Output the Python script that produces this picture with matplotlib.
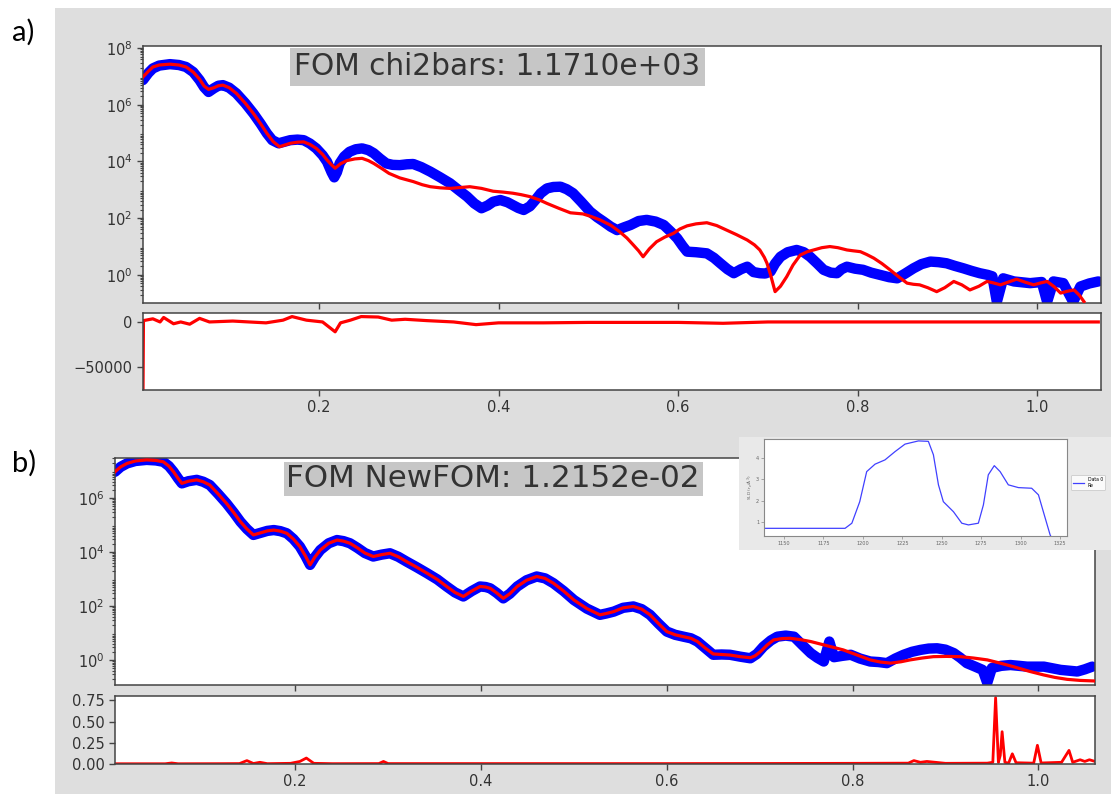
import matplotlib
matplotlib.use("Agg")
import matplotlib.pyplot as plt
from matplotlib.patches import Rectangle
from matplotlib.ticker import FixedLocator, LogLocator, NullFormatter

W, H = 1111, 794

# ---------------- panel a) chi2bars fit (log10 reflectivity) ----------------
qa_data = [0.004, 0.010, 0.015, 0.022, 0.034, 0.044, 0.052, 0.060, 0.067, 0.072, 0.077,
           0.083, 0.088, 0.093, 0.100, 0.108, 0.118, 0.127, 0.135, 0.142, 0.148, 0.155,
           0.162, 0.168, 0.176, 0.183, 0.190, 0.197, 0.204, 0.209, 0.214, 0.217, 0.220,
           0.223, 0.228, 0.234, 0.241, 0.248, 0.255, 0.261, 0.268, 0.275, 0.282, 0.290,
           0.298, 0.305, 0.314, 0.324, 0.335, 0.346, 0.356, 0.365, 0.373, 0.381, 0.388,
           0.394, 0.402, 0.410, 0.416, 0.422, 0.428, 0.435, 0.441, 0.447, 0.454, 0.461,
           0.469, 0.476, 0.483, 0.492, 0.502, 0.510, 0.517, 0.525, 0.532, 0.540, 0.547,
           0.556, 0.565, 0.575, 0.584, 0.592, 0.599, 0.605, 0.610, 0.620, 0.632, 0.640,
           0.647, 0.655, 0.662, 0.670, 0.677, 0.684, 0.691, 0.697, 0.703, 0.708, 0.714,
           0.722, 0.732, 0.740, 0.747, 0.755, 0.762, 0.770, 0.777, 0.782, 0.788, 0.797,
           0.806, 0.815, 0.825, 0.835, 0.844, 0.853, 0.862, 0.871, 0.881, 0.890, 0.899,
           0.908, 0.918, 0.927, 0.936, 0.945, 0.950, 0.955, 0.962, 0.974, 0.992, 1.005,
           1.011, 1.018, 1.029, 1.040, 1.048, 1.058, 1.068]
la_data = [6.87, 7.12, 7.28, 7.38, 7.43, 7.40, 7.33, 7.15, 6.87, 6.62, 6.45,
           6.58, 6.67, 6.69, 6.60, 6.40, 6.05, 5.69, 5.33, 4.99, 4.75, 4.64,
           4.70, 4.75, 4.77, 4.75, 4.63, 4.46, 4.22, 3.99, 3.62, 3.44, 3.62,
           3.93, 4.17, 4.34, 4.43, 4.46, 4.40, 4.29, 4.10, 3.93, 3.88, 3.87,
           3.90, 3.91, 3.80, 3.64, 3.44, 3.23, 2.98, 2.76, 2.52, 2.35, 2.45,
           2.58, 2.64, 2.56, 2.46, 2.36, 2.29, 2.42, 2.64, 2.88, 3.05, 3.10,
           3.11, 3.02, 2.88, 2.58, 2.23, 2.03, 1.88, 1.70, 1.58, 1.68, 1.76,
           1.90, 1.94, 1.88, 1.76, 1.52, 1.29, 1.02, 0.82, 0.80, 0.76, 0.60,
           0.41, 0.20, 0.06, 0.20, 0.29, 0.10, 0.06, 0.05, 0.12, 0.40, 0.64,
           0.80, 0.88, 0.80, 0.64, 0.40, 0.18, 0.08, 0.06, 0.20, 0.29, 0.22,
           0.18, 0.08, 0.00, -0.08, -0.12, 0.05, 0.23, 0.38, 0.47, 0.45, 0.41,
           0.32, 0.23, 0.14, 0.06, 0.00, -0.05, -0.95, -0.12, -0.23, -0.29, -0.25,
           -0.95, -0.23, -0.29, -0.95, -0.41, -0.30, -0.23]
qa_fit = [0.004, 0.010, 0.015, 0.022, 0.034, 0.044, 0.052, 0.060, 0.067, 0.072, 0.077,
          0.083, 0.088, 0.093, 0.100, 0.108, 0.118, 0.127, 0.135, 0.142, 0.149, 0.156,
          0.162, 0.168, 0.176, 0.183, 0.190, 0.197, 0.204, 0.209, 0.214, 0.218, 0.224,
          0.231, 0.240, 0.248, 0.255, 0.261, 0.270, 0.278, 0.290, 0.305, 0.315, 0.324,
          0.335, 0.346, 0.357, 0.368, 0.381, 0.394, 0.405, 0.416, 0.425, 0.435, 0.445,
          0.454, 0.467, 0.480, 0.494, 0.503, 0.513, 0.525, 0.535, 0.543, 0.550, 0.556,
          0.561, 0.568, 0.576, 0.585, 0.595, 0.602, 0.610, 0.620, 0.632, 0.643, 0.654,
          0.665, 0.677, 0.685, 0.691, 0.696, 0.699, 0.703, 0.708, 0.714, 0.721, 0.728,
          0.736, 0.744, 0.751, 0.760, 0.769, 0.778, 0.788, 0.795, 0.803, 0.810, 0.818,
          0.827, 0.836, 0.845, 0.855, 0.862, 0.869, 0.878, 0.888, 0.897, 0.907, 0.916,
          0.925, 0.935, 0.944, 0.951, 0.959, 0.968, 0.977, 0.986, 0.996, 1.004, 1.011,
          1.019, 1.026, 1.033, 1.041, 1.047, 1.052]
la_fit = [6.98, 7.18, 7.33, 7.40, 7.43, 7.40, 7.33, 7.15, 6.90, 6.66, 6.54,
          6.60, 6.67, 6.69, 6.60, 6.40, 6.05, 5.69, 5.33, 4.99, 4.70, 4.52,
          4.58, 4.64, 4.68, 4.69, 4.60, 4.46, 4.25, 4.05, 3.88, 3.76, 3.92,
          4.03, 4.09, 4.11, 4.03, 3.93, 3.75, 3.58, 3.42, 3.29, 3.18, 3.11,
          3.07, 3.05, 3.08, 3.11, 3.05, 2.95, 2.92, 2.88, 2.83, 2.76, 2.65,
          2.52, 2.35, 2.19, 2.15, 2.06, 1.94, 1.75, 1.52, 1.30, 1.06, 0.85,
          0.64, 0.92, 1.17, 1.33, 1.47, 1.62, 1.73, 1.80, 1.84, 1.74, 1.58,
          1.42, 1.23, 1.06, 0.88, 0.62, 0.41, 0.00, -0.59, -0.40, -0.06, 0.35,
          0.70, 0.82, 0.88, 0.96, 1.00, 0.96, 0.88, 0.85, 0.82, 0.72, 0.59,
          0.40, 0.18, -0.05, -0.29, -0.33, -0.35, -0.45, -0.59, -0.45, -0.23, -0.35,
          -0.53, -0.40, -0.23, -0.28, -0.35, -0.25, -0.15, -0.25, -0.35, -0.28, -0.23,
          -0.42, -0.64, -0.58, -0.53, -0.72, -0.94]
qa_res = [0.004, 0.0045, 0.015, 0.023, 0.027, 0.038, 0.046, 0.056, 0.067, 0.078, 0.104,
          0.122, 0.141, 0.160, 0.170, 0.186, 0.204, 0.218, 0.224, 0.235, 0.247, 0.266,
          0.281, 0.296, 0.320, 0.350, 0.375, 0.400, 0.450, 0.500, 0.600, 0.650, 0.700,
          0.800, 0.900, 1.000, 1.068]
va_res = [-76000, 1500, 3500, 0, 5000, -2000, 0, -2500, 4000, 0, 1000,
          0, -1000, 2000, 6000, 2000, 0, -11000, -1000, 2000, 6000, 5500,
          2000, 3000, 1500, 0, -3000, -1000, -1000, -500, -500, -1500, 0,
          0, 0, 0, 0]

# ---------------- panel b) NewFOM fit (log10 reflectivity) ----------------
qb_data = [0.006, 0.012, 0.019, 0.028, 0.040, 0.050, 0.058, 0.064, 0.069, 0.074, 0.078,
           0.085, 0.094, 0.101, 0.108, 0.117, 0.126, 0.134, 0.141, 0.148, 0.155, 0.162,
           0.170, 0.177, 0.184, 0.191, 0.198, 0.205, 0.211, 0.216, 0.221, 0.227, 0.236,
           0.245, 0.252, 0.259, 0.267, 0.275, 0.284, 0.293, 0.302, 0.311, 0.320, 0.331,
           0.342, 0.353, 0.363, 0.372, 0.381, 0.390, 0.399, 0.405, 0.410, 0.417, 0.424,
           0.431, 0.439, 0.449, 0.460, 0.469, 0.478, 0.489, 0.500, 0.514, 0.528, 0.535,
           0.543, 0.553, 0.564, 0.573, 0.582, 0.591, 0.600, 0.609, 0.618, 0.626, 0.633,
           0.641, 0.650, 0.659, 0.668, 0.679, 0.690, 0.697, 0.704, 0.712, 0.719, 0.728,
           0.737, 0.746, 0.755, 0.762, 0.769, 0.775, 0.780, 0.789, 0.798, 0.808, 0.819,
           0.828, 0.837, 0.846, 0.855, 0.864, 0.873, 0.882, 0.891, 0.900, 0.909, 0.916,
           0.923, 0.932, 0.940, 0.945, 0.950, 0.960, 0.970, 0.988, 1.006, 1.024, 1.042,
           1.050, 1.058]
lb_data = [6.97, 7.15, 7.28, 7.37, 7.41, 7.39, 7.34, 7.18, 6.97, 6.72, 6.54,
           6.62, 6.67, 6.60, 6.48, 6.15, 5.80, 5.45, 5.12, 4.85, 4.63, 4.70,
           4.78, 4.81, 4.77, 4.69, 4.48, 4.20, 3.85, 3.52, 3.80, 4.07, 4.32,
           4.44, 4.40, 4.32, 4.15, 3.96, 3.83, 3.90, 3.95, 3.82, 3.64, 3.43,
           3.21, 2.98, 2.72, 2.50, 2.35, 2.55, 2.72, 2.70, 2.65, 2.48, 2.28,
           2.45, 2.72, 2.95, 3.09, 3.02, 2.84, 2.55, 2.22, 1.90, 1.67, 1.72,
           1.79, 1.93, 1.98, 1.88, 1.67, 1.35, 1.05, 0.93, 0.86, 0.80, 0.68,
           0.45, 0.19, 0.20, 0.19, 0.12, 0.06, 0.22, 0.49, 0.72, 0.86, 0.90,
           0.86, 0.55, 0.25, 0.08, -0.06, 0.68, 0.10, 0.15, 0.19, 0.05, -0.06,
           -0.08, -0.12, 0.05, 0.19, 0.30, 0.37, 0.42, 0.43, 0.38, 0.25, 0.08,
           -0.12, -0.25, -0.37, -0.85, -0.30, -0.22, -0.19, -0.25, -0.25, -0.37, -0.43,
           -0.35, -0.25]
qb_fit = [0.006, 0.012, 0.019, 0.028, 0.040, 0.050, 0.058, 0.064, 0.069, 0.074, 0.078,
          0.085, 0.094, 0.101, 0.108, 0.117, 0.126, 0.134, 0.141, 0.148, 0.155, 0.162,
          0.170, 0.177, 0.184, 0.191, 0.198, 0.205, 0.211, 0.216, 0.221, 0.227, 0.236,
          0.245, 0.252, 0.259, 0.267, 0.275, 0.284, 0.293, 0.302, 0.311, 0.320, 0.331,
          0.342, 0.353, 0.363, 0.372, 0.381, 0.390, 0.399, 0.405, 0.410, 0.417, 0.424,
          0.431, 0.439, 0.449, 0.460, 0.469, 0.478, 0.489, 0.500, 0.514, 0.528, 0.535,
          0.543, 0.553, 0.564, 0.573, 0.582, 0.591, 0.600, 0.609, 0.618, 0.626, 0.633,
          0.641, 0.650, 0.659, 0.668, 0.679, 0.690, 0.695, 0.701, 0.708, 0.715, 0.724,
          0.733, 0.744, 0.755, 0.772, 0.790, 0.805, 0.819, 0.830, 0.841, 0.852, 0.862,
          0.875, 0.887, 0.901, 0.916, 0.930, 0.945, 0.959, 0.973, 0.990, 1.006, 1.018,
          1.031, 1.045, 1.060]
lb_fit = [6.97, 7.15, 7.28, 7.37, 7.41, 7.39, 7.34, 7.18, 6.97, 6.72, 6.54,
          6.62, 6.67, 6.60, 6.48, 6.15, 5.80, 5.45, 5.12, 4.85, 4.63, 4.70,
          4.78, 4.81, 4.77, 4.69, 4.48, 4.20, 3.85, 3.52, 3.80, 4.07, 4.32,
          4.44, 4.40, 4.32, 4.15, 3.96, 3.83, 3.90, 3.95, 3.82, 3.64, 3.43,
          3.21, 2.98, 2.72, 2.50, 2.35, 2.55, 2.72, 2.70, 2.65, 2.48, 2.28,
          2.45, 2.72, 2.95, 3.09, 3.02, 2.84, 2.55, 2.22, 1.90, 1.67, 1.72,
          1.79, 1.93, 1.98, 1.88, 1.67, 1.35, 1.05, 0.93, 0.86, 0.80, 0.68,
          0.45, 0.22, 0.20, 0.18, 0.12, 0.08, 0.15, 0.31, 0.55, 0.74, 0.79,
          0.80, 0.75, 0.68, 0.53, 0.37, 0.18, 0.00, -0.08, -0.12, -0.07, 0.00,
          0.07, 0.12, 0.13, 0.12, 0.07, 0.00, -0.12, -0.25, -0.42, -0.56, -0.65,
          -0.72, -0.76, -0.78]
qb_res = [0.006, 0.060, 0.067, 0.074, 0.120, 0.140, 0.148, 0.155, 0.162, 0.170, 0.195,
          0.205, 0.212, 0.220, 0.240, 0.290, 0.295, 0.300, 0.400, 0.500, 0.600, 0.700,
          0.800, 0.860, 0.866, 0.873, 0.880, 0.900, 0.945, 0.951, 0.954, 0.957, 0.959,
          0.961, 0.964, 0.968, 0.972, 0.976, 0.995, 0.999, 1.003, 1.025, 1.033, 1.037,
          1.045, 1.050, 1.055, 1.061]
vb_res = [0.003, 0.003, 0.012, 0.003, 0.004, 0.005, 0.040, 0.006, 0.020, 0.004, 0.008,
          0.030, 0.070, 0.008, 0.004, 0.005, 0.030, 0.005, 0.005, 0.005, 0.005, 0.006,
          0.008, 0.010, 0.040, 0.020, 0.030, 0.008, 0.010, 0.020, 0.780, 0.020, 0.100,
          0.380, 0.020, 0.010, 0.120, 0.015, 0.010, 0.220, 0.012, 0.020, 0.160, 0.020,
          0.050, 0.030, 0.050, 0.030]

# ---------------- SLD profile (inset) ----------------
z_sld = [1137, 1150, 1170, 1188.7, 1193, 1198, 1202.4, 1207.7, 1214, 1220.4, 1226.7,
         1235.2, 1241.5, 1244.7, 1247.9, 1251, 1257.4, 1262.7, 1266.9, 1273.2, 1276.4,
         1279.5, 1283.3, 1287, 1292.2, 1298.6, 1307, 1311.3, 1314.4, 1318.7, 1320]
sld = [0.70, 0.70, 0.70, 0.70, 0.94, 1.95, 3.36, 3.71, 3.91, 4.30, 4.65,
       4.80, 4.78, 4.15, 2.74, 1.95, 1.48, 0.94, 0.86, 0.94, 1.80,
       3.21, 3.64, 3.36, 2.74, 2.61, 2.58, 2.27, 1.48, 0.39, 0.20]

BLUE = "#0000ff"
RED = "#ff0000"
BG = "#dedede"
TXT = "#333333"
SPINE = "#444444"


def axes_px(left, top, right, bottom):
    return fig.add_axes([left / W, 1 - bottom / H, (right - left) / W, (bottom - top) / H])


def style(ax, size=10.5):
    for s in ax.spines.values():
        s.set_color(SPINE)
        s.set_linewidth(1.1)
    ax.tick_params(colors=SPINE, labelcolor=TXT, labelsize=size, length=4, width=1.0)
    ax.tick_params(which="minor", colors=SPINE, length=2.5, width=0.8)


def log_y(ax):
    ax.set_yscale("log")
    ax.yaxis.set_major_locator(FixedLocator([1e0, 1e2, 1e4, 1e6, 1e8]))
    ax.yaxis.set_minor_locator(LogLocator(base=10, subs=range(2, 10), numticks=50))
    ax.yaxis.set_minor_formatter(NullFormatter())


def band(ax, q, logr):
    # measured reflectivity: dense points drawn as one thick round-jointed band
    ax.plot(q, [10 ** v for v in logr], color=BLUE, lw=7.5, solid_capstyle="round",
            solid_joinstyle="round", zorder=2)


fig = plt.figure(figsize=(W / 100, H / 100), dpi=100)
fig.patch.set_facecolor("white")
fig.patches.append(Rectangle((55 / W, 0), (W - 55) / W, (H - 8) / H,
                             transform=fig.transFigure, facecolor=BG,
                             edgecolor="none", zorder=-10))

fig.text(12 / W, 1 - 32 / H, "a)", fontsize=21, family="Lato", va="center", ha="left")
fig.text(12 / W, 1 - 463 / H, "b)", fontsize=21, family="Lato", va="center", ha="left")

xt = [0.2, 0.4, 0.6, 0.8, 1.0]
xtl = ["0.2", "0.4", "0.6", "0.8", "1.0"]

# panel a
ax1 = axes_px(143, 46, 1101, 303)
band(ax1, qa_data, la_data)
ax1.plot(qa_fit, [10 ** v for v in la_fit], color=RED, lw=2.3, zorder=3)
log_y(ax1)
ax1.set_ylim(10 ** -0.99, 10 ** 8.07)
ax1.set_xlim(0.004, 1.071)
ax1.set_xticks(xt)
ax1.set_xticklabels([])
style(ax1)
ax1.text(0.158, 0.975, "FOM chi2bars: 1.1710e+03", transform=ax1.transAxes,
         fontsize=21.3, color=TXT, va="top", ha="left", zorder=5,
         bbox=dict(facecolor="#c6c6c6", edgecolor="none", pad=3))

ax1r = axes_px(143, 313, 1101, 390)
ax1r.plot(qa_res, va_res, color=RED, lw=2.3)
ax1r.set_xlim(0.004, 1.071)
ax1r.set_ylim(-76000, 10000)
ax1r.set_yticks([0, -50000])
ax1r.set_yticklabels(["0", "\u221250000"])
ax1r.set_xticks(xt)
ax1r.set_xticklabels(xtl)
style(ax1r)

# panel b
ax2 = axes_px(115, 458, 1095, 685)
band(ax2, qb_data, lb_data)
ax2.plot(qb_fit, [10 ** v for v in lb_fit], color=RED, lw=2.3, zorder=3)
log_y(ax2)
ax2.set_ylim(10 ** -0.93, 10 ** 7.48)
ax2.set_xlim(0.006, 1.061)
ax2.set_xticks(xt)
ax2.set_xticklabels([])
style(ax2)
ax2.text(0.175, 0.972, "FOM NewFOM: 1.2152e-02", transform=ax2.transAxes,
         fontsize=22.3, color=TXT, va="top", ha="left", zorder=5,
         bbox=dict(facecolor="#c6c6c6", edgecolor="none", pad=2))

ax2r = axes_px(115, 696, 1095, 764)
ax2r.plot(qb_res, vb_res, color=RED, lw=2.0)
ax2r.set_xlim(0.006, 1.061)
ax2r.set_ylim(0, 0.80)
ax2r.set_yticks([0.0, 0.25, 0.5, 0.75])
ax2r.set_yticklabels(["0.00", "0.25", "0.50", "0.75"])
ax2r.set_xticks(xt)
ax2r.set_xticklabels(xtl)
style(ax2r)

# inset: SLD profile window
frame = axes_px(739, 437, 1111, 550)
frame.set_facecolor("#e9e9e9")
frame.set_xticks([])
frame.set_yticks([])
for s in frame.spines.values():
    s.set_visible(False)
frame.set_zorder(5)

ins = axes_px(764, 439, 1067, 536)
ins.set_zorder(6)
ins.plot(z_sld, sld, color="#4040ff", lw=0.9, label="Data 0\nRe")
ins.set_xlim(1137.3, 1329.4)
ins.set_ylim(0.34, 4.89)
ins.set_xticks([1150, 1175, 1200, 1225, 1250, 1275, 1300, 1325])
ins.set_yticks([1, 2, 3, 4])
for s in ins.spines.values():
    s.set_color("#888888")
    s.set_linewidth(0.8)
ins.tick_params(labelsize=3.6, labelcolor="#666666", colors="#888888", length=2, width=0.5, pad=1.5)
ins.set_ylabel("SLD (r$_e$/Å$^3$)", fontsize=3.2, color="#666666", labelpad=1)
leg = ins.legend(loc="center left", bbox_to_anchor=(1.005, 0.55), fontsize=3.3,
                 frameon=True, handlelength=2.5, borderpad=0.4)
leg.get_frame().set_linewidth(0.4)
leg.get_frame().set_edgecolor("#aaaaaa")

fig.savefig("out.png", dpi=100)
